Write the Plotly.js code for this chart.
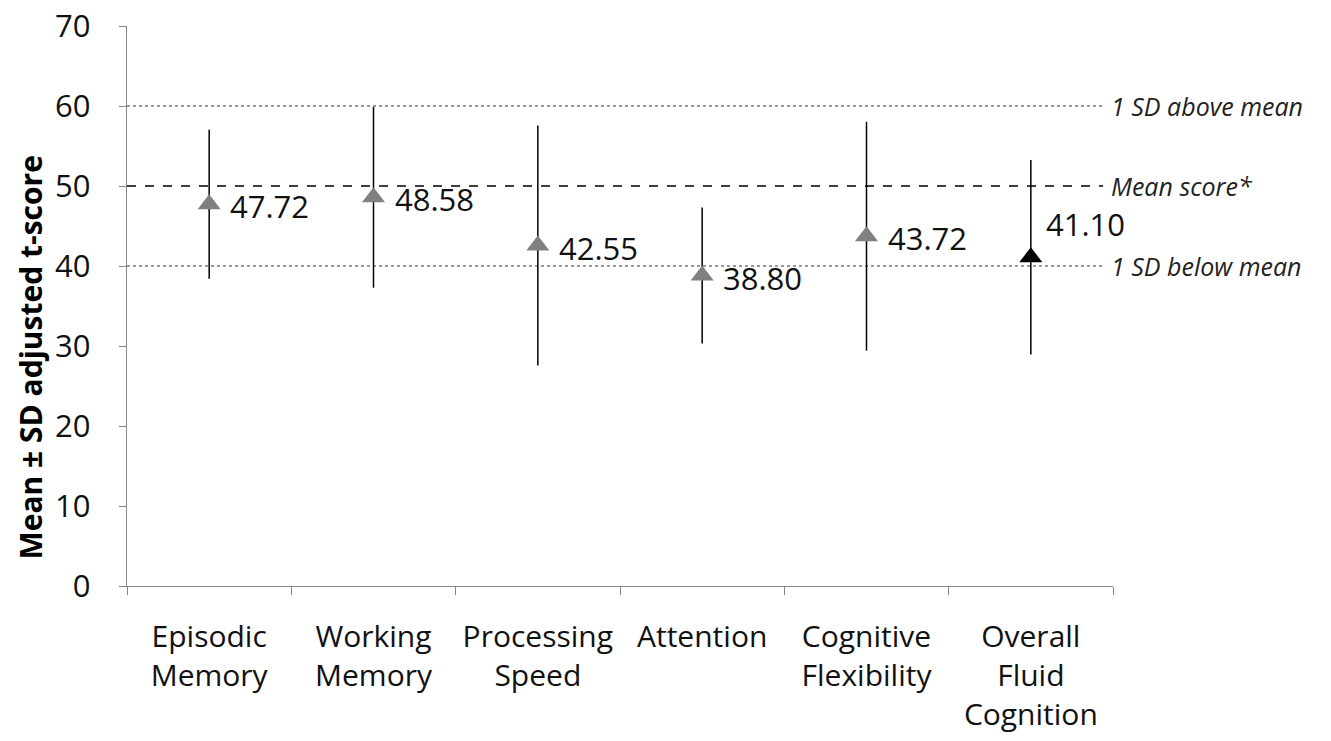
<!DOCTYPE html>
<html>
<head>
<meta charset="utf-8">
<script src="https://cdn.plot.ly/plotly-3.0.1.min.js"></script>
<style>
html,body{margin:0;padding:0;background:#fff;}
#chart{width:1331px;height:741px;}
</style>
</head>
<body>
<div id="chart"></div>
<script>
// ---- data ----
const categories = ["Episodic<br>Memory", "Working<br>Memory", "Processing<br>Speed", "Attention", "Cognitive<br>Flexibility", "Overall<br>Fluid<br>Cognition"];
const means = [47.72, 48.58, 42.55, 38.80, 43.72, 41.10];
const sds = [9.3, 11.3, 15.0, 8.5, 14.3, 12.15];
const refLevels = [60, 50, 40];
const refLabels = ["1 SD above mean", "Mean score*", "1 SD below mean"];
const yTicks = [0, 10, 20, 30, 40, 50, 60, 70];
const yTitle = "Mean ± SD adjusted t-score";

// ---- style ----
const FONT = "'Open Sans', sans-serif";
const markerColors = means.map((m, i) => i === means.length - 1 ? "#000000" : "#808080");
const refDash = ["dot", "dash", "dot"];
const refWidth = [1, 1.4, 1];

const trace = {
  type: "scatter",
  mode: "markers",
  x: categories,
  y: means,
  marker: {symbol: "triangle-up", size: 20, color: markerColors, line: {width: 0}},
  error_y: {type: "data", array: sds, visible: true, color: "#000000", thickness: 1.5, width: 0},
  hoverinfo: "skip",
  showlegend: false
};

const shapes = refLevels.map((lv, i) => ({
  type: "line", xref: "paper", yref: "y",
  x0: 0, x1: 0.99, y0: lv, y1: lv,
  line: {color: i === 1 ? "#000" : "#333", width: refWidth[i], dash: refDash[i]},
  layer: "below"
}));

const annotations = [];
means.forEach((m, i) => {
  const last = i === means.length - 1;
  annotations.push({
    x: categories[i], y: m, xref: "x", yref: "y",
    text: m.toFixed(2), showarrow: false,
    xanchor: "left", yanchor: "middle",
    xshift: last ? 13 : 19, yshift: last ? 33 : -2,
    font: {family: FONT, size: 31, color: "#111"}
  });
});
refLevels.forEach((lv, i) => {
  annotations.push({
    x: 1, y: lv, xref: "paper", yref: "y",
    text: "<i>" + refLabels[i] + "</i>", showarrow: false,
    xanchor: "left", yanchor: "middle", xshift: -4,
    font: {family: FONT, size: 25, color: "#222"}
  });
});
// y-axis title (placed like the reference: below the plot centre)
annotations.push({
  x: -0.098, y: 28.6, xref: "paper", yref: "y",
  text: "<b>" + yTitle + "</b>", showarrow: false, textangle: -90,
  xanchor: "center", yanchor: "middle",
  font: {family: FONT, size: 30, color: "#000"}
});

const layout = {
  width: 1331, height: 741,
  margin: {l: 127, r: 218, t: 26, b: 155, pad: 0},
  paper_bgcolor: "#fff", plot_bgcolor: "#fff",
  font: {family: FONT, color: "#111"},
  xaxis: {
    type: "category", range: [-0.5, 5.5],
    showgrid: false, zeroline: false,
    showline: true, linecolor: "#868686", linewidth: 1.3,
    ticks: "outside", tickson: "boundaries", ticklen: 8, tickcolor: "#868686", tickwidth: 1,
    tickfont: {family: FONT, size: 30, color: "#111"},
    ticklabelstandoff: 24,
    fixedrange: true
  },
  yaxis: {
    range: [0, 70], tickvals: yTicks,
    showgrid: false, zeroline: false,
    showline: true, linecolor: "#868686", linewidth: 1.3,
    ticks: "outside", ticklen: 7, tickcolor: "#868686", tickwidth: 1,
    tickfont: {family: FONT, size: 31, color: "#111"},
    ticklabelstandoff: 22,
    fixedrange: true
  },
  shapes: shapes,
  annotations: annotations
};

Plotly.newPlot("chart", [trace], layout, {displayModeBar: false, staticPlot: true});
</script>
</body>
</html>
